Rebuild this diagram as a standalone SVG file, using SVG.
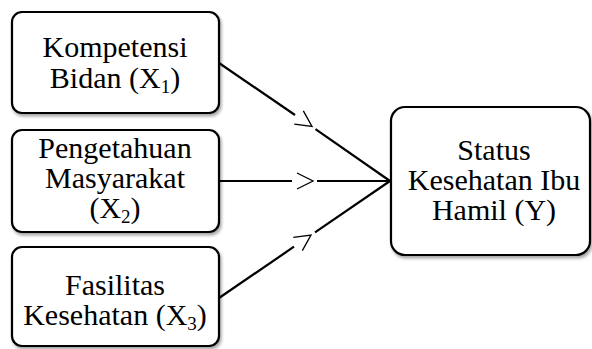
<svg xmlns="http://www.w3.org/2000/svg" xmlns:xlink="http://www.w3.org/1999/xlink" width="592" height="349" viewBox="0 0 592 349">
<style>
.box{fill:#fff;stroke:#000;stroke-width:2.2;filter:url(#sh);}
.lbl{font-family:"Liberation Serif","Times New Roman",serif;font-size:30px;fill:#000;text-anchor:middle;}
.sub{font-size:19px;}
.ln{stroke:#000;stroke-width:2.2;fill:none;stroke-linecap:butt;}
.chev{stroke:#000;stroke-width:1.3;fill:none;}
</style>
<defs>
<filter id="sh" x="-10%" y="-10%" width="125%" height="130%">
<feDropShadow dx="1.5" dy="2.5" stdDeviation="1.5" flood-color="#000" flood-opacity="0.35"/>
</filter>
<path id="chevron" class="chev" d="M-16,-8 L0,0 L-16,8"/>
</defs>
<g id="connectors">
<path class="ln" d="M219,63 L295,115"/>
<path class="ln" d="M315.5,129.2 L390,181"/>
<use xlink:href="#chevron" transform="translate(312,126.5) rotate(34.5)"/>
<path class="ln" d="M219,181 L292,181"/>
<path class="ln" d="M317,181 L390,181"/>
<use xlink:href="#chevron" transform="translate(313,181)"/>
<path class="ln" d="M219,298 L294,246.7"/>
<path class="ln" d="M315,232.3 L390,181"/>
<use xlink:href="#chevron" transform="translate(311,235) rotate(-34.4)"/>
</g>
<g id="node-x1">
<rect class="box" x="12" y="12" width="207" height="101" rx="10"/>
<text class="lbl" x="115" y="57">Kompetensi</text>
<text class="lbl" x="115" y="88">Bidan (X<tspan class="sub" dy="5">1</tspan><tspan dy="-5">)</tspan></text>
</g>
<g id="node-x2">
<rect class="box" x="12" y="130" width="207" height="102" rx="10"/>
<text class="lbl" x="115" y="158">Pengetahuan</text>
<text class="lbl" x="115" y="188">Masyarakat</text>
<text class="lbl" x="115" y="218">(X<tspan class="sub" dy="5">2</tspan><tspan dy="-5">)</tspan></text>
</g>
<g id="node-x3">
<rect class="box" x="12" y="247" width="207" height="99" rx="10"/>
<text class="lbl" x="115" y="295">Fasilitas</text>
<text class="lbl" x="115" y="325">Kesehatan (X<tspan class="sub" dy="5">3</tspan><tspan dy="-5">)</tspan></text>
</g>
<g id="node-y">
<rect class="box" x="391" y="107" width="199" height="148" rx="14"/>
<text class="lbl" x="494" y="160">Status</text>
<text class="lbl" x="494" y="190">Kesehatan Ibu</text>
<text class="lbl" x="494" y="220">Hamil (Y)</text>
</g>
</svg>
